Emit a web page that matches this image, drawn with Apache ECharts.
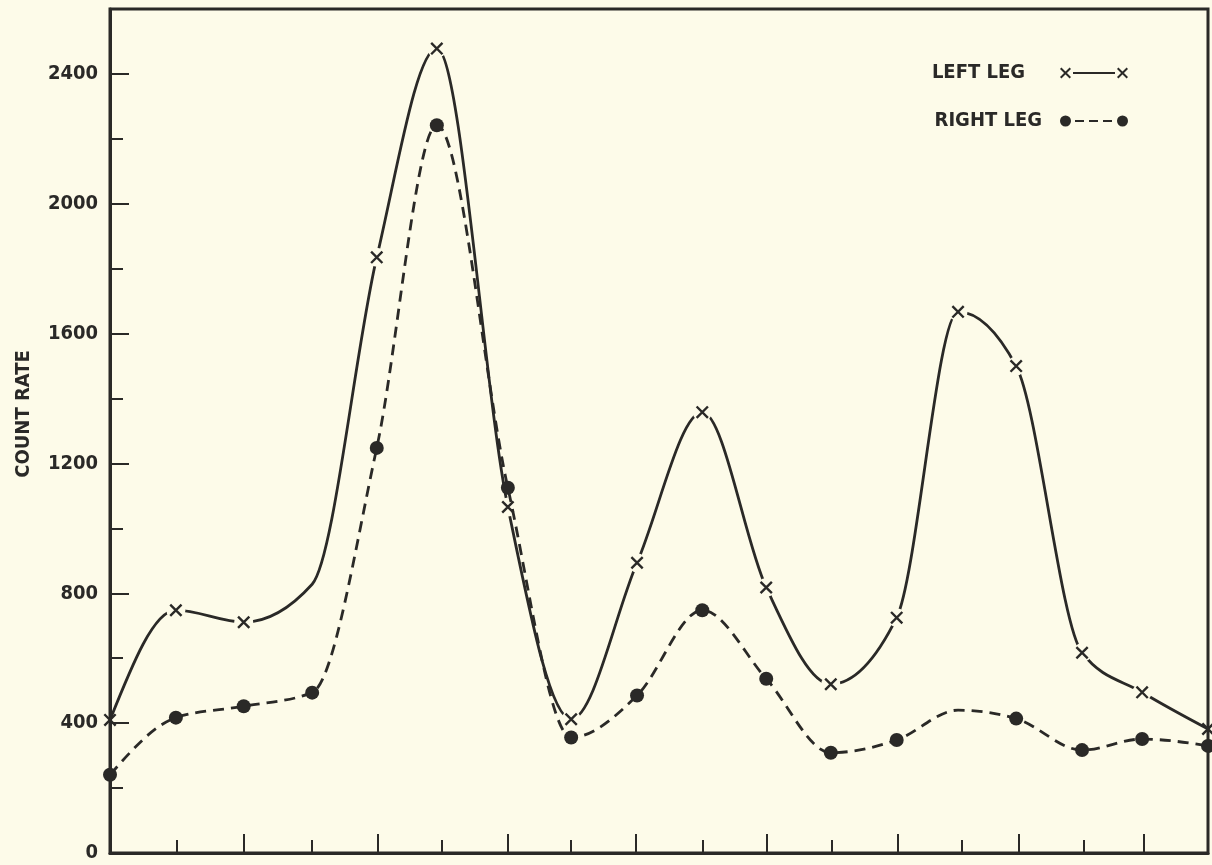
<!DOCTYPE html>
<html>
<head>
<meta charset="utf-8">
<script src="https://cdn.jsdelivr.net/npm/echarts@6/dist/echarts.min.js"></script>
<style>
html,body{margin:0;padding:0;background:#fdfbe9;}
#chart{width:1212px;height:865px;}
</style>
</head>
<body>
<div id="chart"></div>
<script>
// Positions along the horizontal axis (in tick units, 0..17)
var xPositions = [0, 1.02, 2.07, 3.13, 4.13, 5.06, 6.16, 7.14, 8.16, 9.17, 10.16, 11.16, 12.18, 13.13, 14.03, 15.05, 15.98, 17];
var leftLeg  = [410, 748, 711, 828, 1835, 2478, 1066, 412, 894, 1358, 818, 520, 725, 1667, 1500, 617, 495, 382];
var rightLeg = [241, 417, 452, 494, 1248, 2242, 1125, 356, 485, 748, 537, 309, 348, 440, 414, 317, 351, 330];
var leftNoMarker = [3];
var rightNoMarker = [13];
var shortTicks = [1.03, 3.13, 5.14, 7.14, 9.18, 11.18, 13.19, 15.08];
var longTicks  = [2.07, 4.15, 6.16, 8.14, 10.17, 12.2, 14.07, 16.01];
var yLabels = [0, 400, 800, 1200, 1600, 2000, 2400];
var seriesNames = ['LEFT LEG', 'RIGHT LEG'];
var yTitle = 'COUNT RATE';

var INK = '#2a2927';
var BG = '#fdfbe9';
var FONT = "'DejaVu Sans Condensed', 'DejaVu Sans', sans-serif";
var X_PATH = 'path://M1.3,0 L10,8.7 L8.7,10 L0,1.3 Z M8.7,0 L10,1.3 L1.3,10 L0,8.7 Z';
var LEG_LEFT_ICON = 'path://M1.4,0 L11,9.6 L9.6,11 L0,1.4 Z M9.6,0 L11,1.4 L1.4,11 L0,9.6 Z ' +
  'M13,4.6 L55,4.6 L55,6.4 L13,6.4 Z ' +
  'M58.4,0 L68,9.6 L66.6,11 L57,1.4 Z M66.6,0 L68,1.4 L58.4,11 L57,9.6 Z';
var LEG_RIGHT_ICON = 'path://M0,5.5 A5.5,5.5 0 1,0 11,5.5 A5.5,5.5 0 1,0 0,5.5 Z ' +
  'M15,4.6 L24,4.6 L24,6.4 L15,6.4 Z M29,4.6 L38,4.6 L38,6.4 L29,6.4 Z M43,4.6 L52,4.6 L52,6.4 L43,6.4 Z ' +
  'M57,5.5 A5.5,5.5 0 1,0 68,5.5 A5.5,5.5 0 1,0 57,5.5 Z';

function build(values, noMarker) {
  return values.map(function (v, i) {
    var item = { value: [xPositions[i], v] };
    if (noMarker.indexOf(i) >= 0) item.symbol = 'none';
    return item;
  });
}
function buildHalo(values, skip) {
  var out = [];
  values.forEach(function (v, i) { if (skip.indexOf(i) < 0) out.push([xPositions[i], v]); });
  return out;
}

// monotone cubic (Steffen) tangents; curve drawn through the chart's coordinate system
function sgn(v) { return v < 0 ? -1 : 1; }
function tangents(xs, ys) {
  var n = xs.length, m = new Array(n);
  for (var i = 1; i < n - 1; i++) {
    var h0 = xs[i] - xs[i - 1], h1 = xs[i + 1] - xs[i];
    var s0 = (ys[i] - ys[i - 1]) / h0, s1 = (ys[i + 1] - ys[i]) / h1;
    var p = (s0 * h1 + s1 * h0) / (h0 + h1);
    m[i] = (sgn(s0) + sgn(s1)) * Math.min(Math.abs(s0), Math.abs(s1), 0.5 * Math.abs(p)) || 0;
  }
  var hA = xs[1] - xs[0];
  m[0] = (3 * (ys[1] - ys[0]) / hA - m[1]) / 2;
  var hB = xs[n - 1] - xs[n - 2];
  m[n - 1] = (3 * (ys[n - 1] - ys[n - 2]) / hB - m[n - 2]) / 2;
  return m;
}
function curvePath(api, xs, ys) {
  var m = tangents(xs, ys);
  var p = api.coord([xs[0], ys[0]]);
  var d = 'M' + p[0] + ',' + p[1];
  for (var i = 0; i < xs.length - 1; i++) {
    var h = xs[i + 1] - xs[i];
    var c1 = api.coord([xs[i] + h / 3, ys[i] + m[i] * h / 3]);
    var c2 = api.coord([xs[i + 1] - h / 3, ys[i + 1] - m[i + 1] * h / 3]);
    var e = api.coord([xs[i + 1], ys[i + 1]]);
    d += ' C' + c1[0] + ',' + c1[1] + ' ' + c2[0] + ',' + c2[1] + ' ' + e[0] + ',' + e[1];
  }
  return d;
}
function curveSeries(values, dash, z) {
  return {
    type: 'custom', xAxisIndex: 0, yAxisIndex: 0, clip: false, z: z, silent: true,
    data: [[xPositions[0], values[0]]],
    renderItem: function (params, api) {
      if (params.dataIndex !== 0) return null;
      return {
        type: 'path',
        shape: { pathData: curvePath(api, xPositions, values) },
        style: { fill: null, stroke: INK, lineWidth: 2.8, lineDash: dash, lineCap: 'butt' }
      };
    }
  };
}

var chart = echarts.init(document.getElementById('chart'), null, { renderer: 'canvas' });
chart.setOption({
  backgroundColor: BG,
  animation: false,
  textStyle: { fontFamily: FONT, color: INK },
  grid: {
    left: 110, right: 4, top: 9, bottom: 12,
    outerBoundsMode: 'none',
    show: true, borderColor: INK, borderWidth: 3, backgroundColor: 'transparent'
  },
  legend: {
    orient: 'vertical',
    right: 79, top: 58,
    align: 'right',
    itemGap: 28,
    itemWidth: 68, itemHeight: 12,
    textStyle: { fontFamily: FONT, fontSize: 20, fontWeight: 'bold', color: INK },
    itemStyle: { borderWidth: 0 },
    data: [
      { name: seriesNames[0], icon: LEG_LEFT_ICON, textStyle: { padding: [0, 30, 0, 0] } },
      { name: seriesNames[1], icon: LEG_RIGHT_ICON, textStyle: { padding: [0, 13, 0, 0] } }
    ]
  },
  graphic: [{
    type: 'text', x: 24, y: 414, rotation: Math.PI / 2, silent: true,
    style: { text: yTitle, fill: INK, font: "bold 20px 'DejaVu Sans Condensed', 'DejaVu Sans', sans-serif", align: 'center', verticalAlign: 'middle' }
  }],
  xAxis: [
    {
      type: 'value', min: 0, max: 17, position: 'bottom',
      axisLine: { show: true, onZero: false, lineStyle: { color: INK, width: 3 } },
      axisTick: { show: true, inside: true, length: 13, customValues: shortTicks, lineStyle: { color: INK, width: 2 } },
      axisLabel: { show: false },
      splitLine: { show: false }
    },
    {
      type: 'value', min: 0, max: 17, position: 'bottom',
      axisLine: { show: false, onZero: false },
      axisTick: { show: true, inside: true, length: 19, customValues: longTicks, lineStyle: { color: INK, width: 2 } },
      axisLabel: { show: false },
      splitLine: { show: false }
    }
  ],
  yAxis: [
    {
      type: 'value', min: 0, max: 2600, position: 'left',
      axisLine: { show: true, onZero: false, lineStyle: { color: INK, width: 3 } },
      axisTick: { show: true, inside: true, length: 19, customValues: yLabels, lineStyle: { color: INK, width: 2 } },
      axisLabel: {
        show: true, customValues: yLabels, margin: 12,
        fontFamily: FONT, fontSize: 20, fontWeight: 'bold', color: INK,
        formatter: function (v) { return String(v); }
      },
      splitLine: { show: false }
    },
    {
      type: 'value', min: 0, max: 2600, interval: 200, position: 'left',
      axisLine: { show: false, onZero: false },
      axisTick: { show: true, inside: true, length: 13, lineStyle: { color: INK, width: 2 } },
      axisLabel: { show: false },
      splitLine: { show: false }
    }
  ],
  series: [
    curveSeries(leftLeg, null, 1),
    {
      type: 'scatter', xAxisIndex: 0, yAxisIndex: 0, silent: true,
      symbol: 'circle', symbolSize: 19,
      itemStyle: { color: BG, borderWidth: 0, opacity: 1 },
      data: buildHalo(leftLeg, [0, leftLeg.length - 1].concat(leftNoMarker)),
      z: 2
    },
    curveSeries(rightLeg, [11, 7], 3),
    {
      name: seriesNames[0], type: 'line', xAxisIndex: 0, yAxisIndex: 0,
      symbol: X_PATH, symbolSize: 13, showAllSymbol: true,
      itemStyle: { color: INK, borderWidth: 0 },
      lineStyle: { width: 0, opacity: 0 },
      data: build(leftLeg, leftNoMarker),
      z: 4
    },
    {
      name: seriesNames[1], type: 'line', xAxisIndex: 0, yAxisIndex: 0,
      symbol: 'circle', symbolSize: 14, showAllSymbol: true,
      itemStyle: { color: INK, borderWidth: 0 },
      lineStyle: { width: 0, opacity: 0 },
      data: build(rightLeg, rightNoMarker),
      z: 4
    }
  ]
});
</script>
</body>
</html>
